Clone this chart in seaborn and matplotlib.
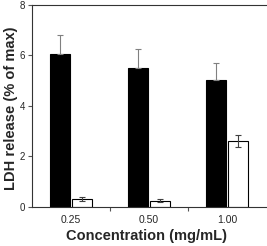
import matplotlib
matplotlib.use("Agg")
import matplotlib.pyplot as plt
import seaborn as sns
import numpy as np
import pandas as pd

categories = ["0.25", "0.50", "1.00"]
series_names = ["A", "B"]
black_vals = [6.05, 5.52, 5.02]
black_err = [0.77, 0.73, 0.70]
white_vals = [0.33, 0.25, 2.62]
white_err = [0.08, 0.07, 0.25]

sns.set_style("white")
plt.rcParams["font.family"] = ["Liberation Sans", "DejaVu Sans"]

df = pd.DataFrame({
    "conc": categories * 2,
    "series": [series_names[0]] * 3 + [series_names[1]] * 3,
    "val": black_vals + white_vals,
})

fig = plt.figure(figsize=(2.67, 2.46), dpi=100)
ax = fig.add_axes([0.12, 0.1585, 0.877, 0.8215])

sns.barplot(data=df, x="conc", y="val", hue="series", order=categories,
            hue_order=series_names, palette=["black", "white"],
            edgecolor="black", linewidth=0.8, width=0.56, gap=0.1,
            errorbar=None, legend=False, ax=ax)

patches = ax.patches[:6]
centers = [p.get_x() + p.get_width() / 2 for p in patches]
ax.errorbar(centers[:3], black_vals, yerr=[np.zeros(3), black_err], fmt="none",
            ecolor="#808080", elinewidth=0.8, capsize=2.2, capthick=0.8, zorder=3)
ax.errorbar(centers[3:6], white_vals, yerr=white_err, fmt="none",
            ecolor="#404040", elinewidth=0.8, capsize=2.2, capthick=0.8, zorder=3)

ax.set_xlim(-0.5, 2.5)
ax.set_ylim(0, 8)
ax.set_yticks([0, 2, 4, 6, 8])
ax.set_xticks([0, 1, 2])
ax.set_xticklabels(categories)
ax.set_xticks([0.5, 1.5], minor=True)
ax.tick_params(axis="x", which="major", length=0, labelsize=7.5, pad=6)
ax.tick_params(axis="x", which="minor", length=3, width=0.8, direction="out", bottom=True, color="#555555")
ax.tick_params(axis="y", length=3, width=0.8, direction="out", left=True, labelsize=7, pad=2, color="#555555")

for s in ["left", "bottom", "top"]:
    ax.spines[s].set_visible(True)
    ax.spines[s].set_color("#333333")
    ax.spines[s].set_linewidth(0.8)
ax.spines["right"].set_visible(False)

ax.set_xlabel("Concentration (mg/mL)", fontsize=10.5, fontweight="bold")
ax.set_ylabel("LDH release (% of max)", fontsize=10.5, fontweight="bold")
ax.yaxis.set_label_coords(-0.06, 0.49)
ax.xaxis.set_label_coords(0.49, -0.11)

fig.savefig("out.png", dpi=100)
